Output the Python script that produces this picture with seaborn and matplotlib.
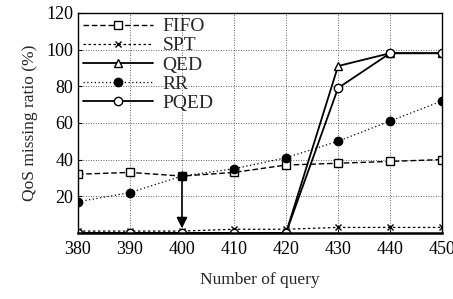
import pandas as pd
import matplotlib
matplotlib.use("Agg")
import matplotlib.pyplot as plt
import seaborn as sns

# values
queries = [380, 390, 400, 410, 420, 430, 440, 450]
fifo = [32, 33, 31, 33, 37, 38, 39, 40]
spt = [1, 1, 1, 2, 2, 3, 3, 3]
qed = [0, 0, 0, 0, 0, 91, 98, 98]
rr = [17, 22, 31, 35, 41, 50, 61, 72]
pqed = [0, 0, 0, 0, 0, 79, 98, 98]

series = ["FIFO", "SPT", "QED", "RR", "PQED"]
styles = {
    "FIFO": dict(ls=(0, (4, 2)), marker="s", mfc="white", ms=6, lw=1.0),
    "SPT": dict(ls=(0, (2, 2)), marker="x", mfc="black", ms=5, lw=0.9),
    "QED": dict(ls="-", marker="^", mfc="white", ms=6, lw=1.3),
    "RR": dict(ls=(0, (1, 2)), marker="o", mfc="black", ms=6, lw=0.9),
    "PQED": dict(ls="-", marker="o", mfc="white", ms=6, lw=1.3),
}

df = pd.DataFrame({"query": queries, "FIFO": fifo, "SPT": spt,
                   "QED": qed, "RR": rr, "PQED": pqed})
long = df.melt(id_vars="query", var_name="method", value_name="ratio")

sns.set_style("white")
plt.rcParams["font.family"] = ["Liberation Serif", "DejaVu Serif"]

fig = plt.figure(figsize=(4.53, 2.99), dpi=100)
ax = fig.add_axes([0.172, 0.221, 0.804, 0.736])

for name in series:
    st = styles[name]
    sub = long[long["method"] == name]
    sns.lineplot(data=sub, x="query", y="ratio", ax=ax, color="black",
                 linestyle=st["ls"], marker=st["marker"], markersize=st["ms"],
                 markerfacecolor=st["mfc"], markeredgecolor="black",
                 markeredgewidth=1.0, linewidth=st["lw"], label=name)

# downward arrow at 400
ax.annotate("", xy=(400, 1), xytext=(400, 30),
            arrowprops=dict(arrowstyle="-|>", color="black", lw=1.2,
                            mutation_scale=16, edgecolor="gray"))

ax.set_xlim(380, 450)
ax.set_ylim(0, 120)
ax.set_xticks(queries)
ax.set_yticks([20, 40, 60, 80, 100, 120])
ax.grid(True, color="#333333", linestyle=(0, (1, 2)), linewidth=0.6)
for s in ax.spines.values():
    s.set_color("black")
    s.set_linewidth(1.0)
ax.spines["bottom"].set_linewidth(1.8)
ax.tick_params(axis="both", labelsize=13, colors="black", direction="in",
               length=3, left=True, bottom=True)
ax.tick_params(axis="x", pad=6)
ax.set_xlabel("Number of query", fontsize=12.5, labelpad=10)
ax.set_ylabel("QoS missing ratio (%)", fontsize=12.5, labelpad=6)

ax.legend(loc="upper left", frameon=False, fontsize=14, handlelength=3.6,
          labelspacing=0.08, borderaxespad=0.05, handletextpad=0.5,
          borderpad=0.2)

fig.savefig("out.png", dpi=100)
